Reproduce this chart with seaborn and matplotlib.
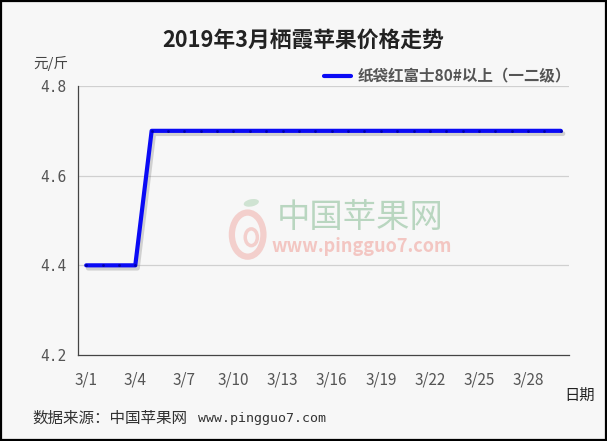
import matplotlib
matplotlib.use("Agg")
import matplotlib.pyplot as plt
import matplotlib.patheffects as pe
from matplotlib.lines import Line2D
from matplotlib.patches import Ellipse, Rectangle
import seaborn as sns
import pandas as pd

# March 2019 Qixia apple prices (yuan per jin)
dates = ["3/1", "3/2", "3/3", "3/4", "3/5", "3/6", "3/7", "3/8", "3/9", "3/10",
         "3/11", "3/12", "3/13", "3/14", "3/15", "3/16", "3/17", "3/18", "3/19", "3/20",
         "3/21", "3/22", "3/23", "3/24", "3/25", "3/26", "3/27", "3/28", "3/29", "3/30"]
prices = [4.4, 4.4, 4.4, 4.4, 4.7, 4.7, 4.7, 4.7, 4.7, 4.7,
          4.7, 4.7, 4.7, 4.7, 4.7, 4.7, 4.7, 4.7, 4.7, 4.7,
          4.7, 4.7, 4.7, 4.7, 4.7, 4.7, 4.7, 4.7, 4.7, 4.7]
series_name = "纸袋红富士80#以上（一二级）"
y_ticks = [4.2, 4.4, 4.6, 4.8]

sns.set_theme(style="white")
plt.rcParams["font.family"] = ["Noto Sans CJK SC", "DejaVu Sans"]

BG = "#f7f7f7"
LINE = "#0a0af5"
df = pd.DataFrame({"pos": range(len(dates)), "price": prices})

fig = plt.figure(figsize=(6.07, 4.41), dpi=100, facecolor=BG)
ax = fig.add_axes([78 / 607, 86 / 441, (569 - 78) / 607, (355 - 86) / 441])
ax.set_facecolor(BG)

# watermark
fig.text(0.593, 0.506, "中国苹果网", fontsize=24, color="#b9d6c0",
         ha="center", va="center", zorder=0)
fig.text(0.596, 0.442, "www.pingguo7.com", fontsize=13, color="#f3c6c2",
         fontstyle="italic", fontweight="bold", ha="center", va="center", zorder=0)
fig.patches.append(Ellipse((0.408, 0.468), 0.052, 0.1, transform=fig.transFigure,
                           fill=False, lw=4.5, ec="#f3cfcc", zorder=0))
fig.patches.append(Ellipse((0.414, 0.462), 0.02, 0.038, transform=fig.transFigure,
                           fill=False, lw=2.5, ec="#f3cfcc", zorder=0))
fig.patches.append(Ellipse((0.414, 0.54), 0.026, 0.016, angle=20, transform=fig.transFigure,
                           fc="#cfe3d2", ec="none", zorder=0))

for y in y_ticks[1:]:
    ax.axhline(y, color="#d0d0d0", lw=0.9, zorder=1)

sns.lineplot(data=df, x="pos", y="price", ax=ax, color=LINE, lw=3, zorder=3,
             path_effects=[pe.SimpleLineShadow(offset=(1.5, -2), shadow_color="#777777",
                                               alpha=0.3, linewidth=3.5),
                           pe.Normal()])
sns.scatterplot(data=df, x="pos", y="price", ax=ax, color="#0000a8", s=4,
                linewidth=0, zorder=4, legend=False)

ax.set_xlim(-0.5, len(dates) - 0.5)
ax.set_ylim(4.2, 4.8)
ax.set_xlabel("")
ax.set_ylabel("")

# category labels every third day
ax.set_xticks(range(0, len(dates), 3))
ax.set_xticklabels(dates[::3])
ax.tick_params(axis="x", which="major", length=0, pad=12, labelsize=11, labelcolor="#555555")
# boundary ticks between days
bounds = [i - 0.5 for i in range(len(dates) + 1)]
ax.set_xticks(bounds, minor=True)
ax.tick_params(axis="x", which="minor", direction="in", length=3.5, width=0.8, color="#444444")

ax.set_yticks(y_ticks)
ax.set_yticklabels([f"{v:.1f}" for v in y_ticks])
ax.tick_params(axis="y", direction="in", length=5, width=0.8, color="#444444",
               pad=8, labelsize=10.5, labelcolor="#555555")
for lab in ax.get_yticklabels():
    lab.set_family(["DejaVu Sans Mono"])

for side in ["top", "right"]:
    ax.spines[side].set_visible(False)
for side in ["left", "bottom"]:
    ax.spines[side].set_color("#444444")
    ax.spines[side].set_linewidth(0.9)

fig.text(0.5, 0.909, "2019年3月栖霞苹果价格走势", fontsize=15.7, fontweight="bold",
         color="#222222", ha="center", va="center")
fig.text(0.083, 0.855, "元/斤", fontsize=10.5, color="#444444", ha="center", va="center")
fig.text(0.955, 0.104, "日期", fontsize=11, color="#222222", ha="center", va="center")
fig.text(0.054, 0.052, "数据来源：中国苹果网", fontsize=11.2, color="#333333",
         ha="left", va="center")
fig.text(0.326, 0.052, "www.pingguo7.com", fontsize=9.5, color="#333333",
         ha="left", va="center", family=["DejaVu Sans Mono"])

handle = Line2D([], [], color=LINE, lw=3)
leg = ax.legend([handle], [series_name], loc="center right",
                bbox_to_anchor=(0.963, 0.826), bbox_transform=fig.transFigure,
                frameon=False, handlelength=1.75, handletextpad=0.4,
                prop={"size": 11.2, "weight": "bold"})
for t in leg.get_texts():
    t.set_color("#555555")

# outer frame
fig.patches.append(Rectangle((0.002, 0.002), 0.996, 0.996, transform=fig.transFigure,
                             fill=False, ec="black", lw=1.6, zorder=10))

fig.savefig("out.png", dpi=100, facecolor=BG)
